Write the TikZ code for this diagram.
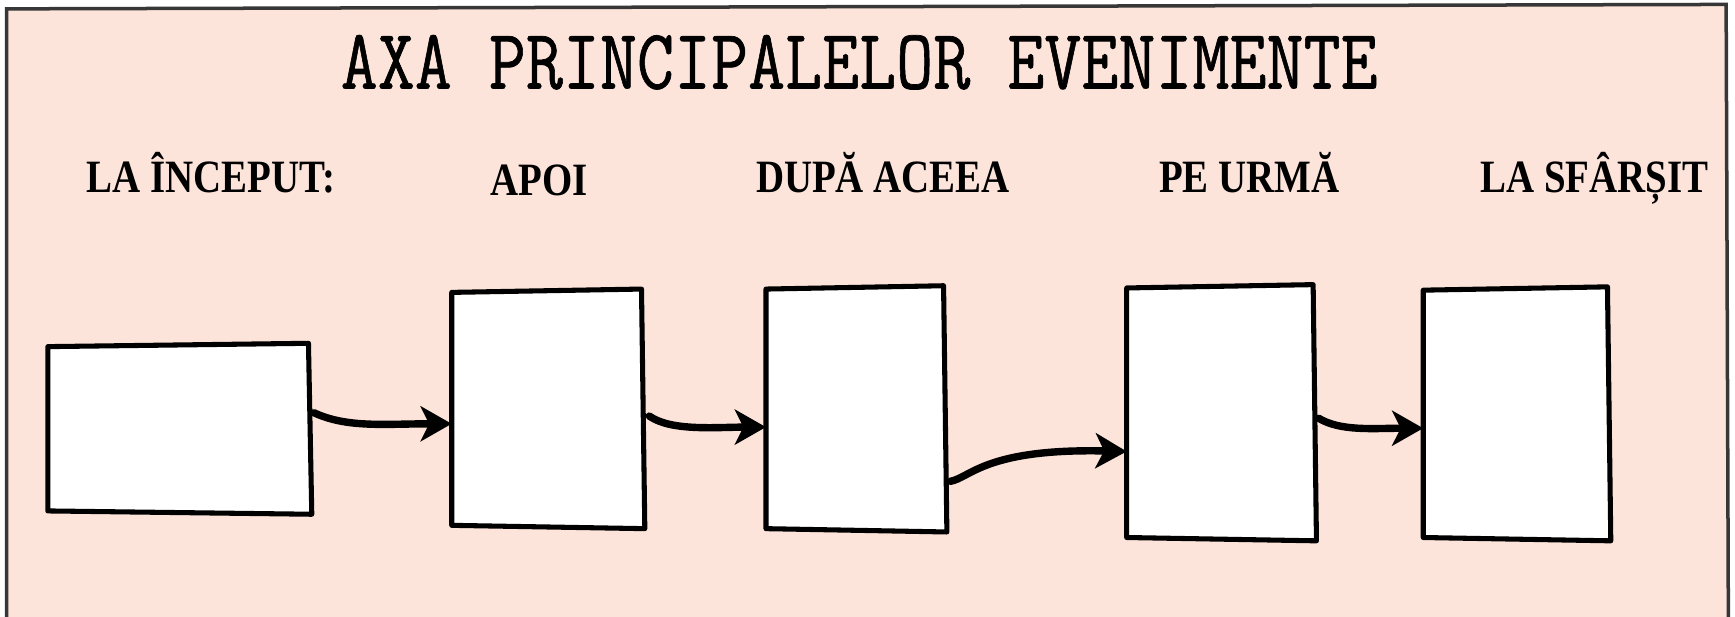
\documentclass[tikz,border=0pt]{standalone}
\usepackage{fontspec}
\setmainfont{Liberation Serif}
\newfontfamily\titlefont{Latin Modern Mono}[FakeBold=0.8]
\usetikzlibrary{calc,arrows.meta}
\definecolor{peach}{RGB}{253,228,218}
\definecolor{framec}{RGB}{55,55,55}
\tikzset{
  box/.style={fill=white, inner sep=0pt},
  outline/.style={draw=black, line width=1.3pt, line join=round},
  hdr/.style={anchor=base, font=\bfseries\fontsize{11.9pt}{12pt}\selectfont, xscale=0.84, inner sep=0pt},
  arr/.style={line width=1.9pt, line cap=round, -{Stealth[length=8pt,width=9pt,inset=2.2pt]}}
}
\newcommand{\wob}[1]{\draw[outline] ($(#1.north west)+(0,3)$) -- ($(#1.north east)+(-3,0)$) -- (#1.south east) -- ($(#1.south west)+(0,-3)$) -- cycle;}
\begin{document}
\begin{tikzpicture}[x=0.01cm,y=-0.01cm]
\useasboundingbox (0,0) rectangle (1568,557);
\fill[white] (0,0) rectangle (1568,557);
\fill[peach] (6,8) -- (1560,4) -- (1562,560) -- (6,560) -- cycle;
\draw[framec, line width=0.9pt] (6,560) -- (6,8) -- (1560,4) -- (1562,560);
\node[anchor=base, inner sep=0pt, font=\titlefont\fontsize{22pt}{22pt}\selectfont, xscale=0.84] (title) at (776.5,80) {AXA PRINCIPALELOR EVENIMENTE};
\node[hdr] (h1) at (191,174) {LA ÎNCEPUT:};
\node[hdr] (h2) at (487,177) {APOI};
\node[hdr] (h3) at (798,174) {DUPĂ ACEEA};
\node[hdr] (h4) at (1129,174) {PE URMĂ};
\node[hdr] (h5) at (1441,174) {LA SFÂRȘIT};
\node[box, minimum width=2.37cm, minimum height=1.53cm] (b1) at (162.5,387.5) {};
\node[box, minimum width=1.73cm, minimum height=2.15cm] (b2) at (495.5,369.5) {};
\node[box, minimum width=1.62cm, minimum height=2.21cm] (b3) at (774,369.5) {};
\node[box, minimum width=1.70cm, minimum height=2.30cm] (b4) at (1104,373) {};
\node[box, minimum width=1.68cm, minimum height=2.28cm] (b5) at (1371,374) {};
\wob{b1}\wob{b2}\wob{b3}\wob{b4}\wob{b5}
\coordinate (s1) at ($(b1.east)+(2,-14.5)$);
\coordinate (e1) at ($(b2.west)+(0,13.5)$);
\coordinate (s2) at ($(b2.east)+(4,6.5)$);
\coordinate (e2) at ($(b3.west)+(0,16.5)$);
\coordinate (s3) at ($(b3.east)+(3,65.5)$);
\coordinate (e3) at ($(b4.west)+(0,35)$);
\coordinate (s4) at ($(b4.east)+(2,5)$);
\coordinate (e4) at ($(b5.west)+(0,13)$);
\draw[arr] (s1) .. controls +(30,14) and +(-60,0) .. (e1);
\draw[arr] (s2) .. controls +(20,14) and +(-45,0) .. (e2);
\draw[arr] (s3) .. controls +(18,-3) and +(-128,-3) .. (e3);
\draw[arr] (s4) .. controls +(20,12) and +(-45,0) .. (e4);
\end{tikzpicture}
\end{document}
